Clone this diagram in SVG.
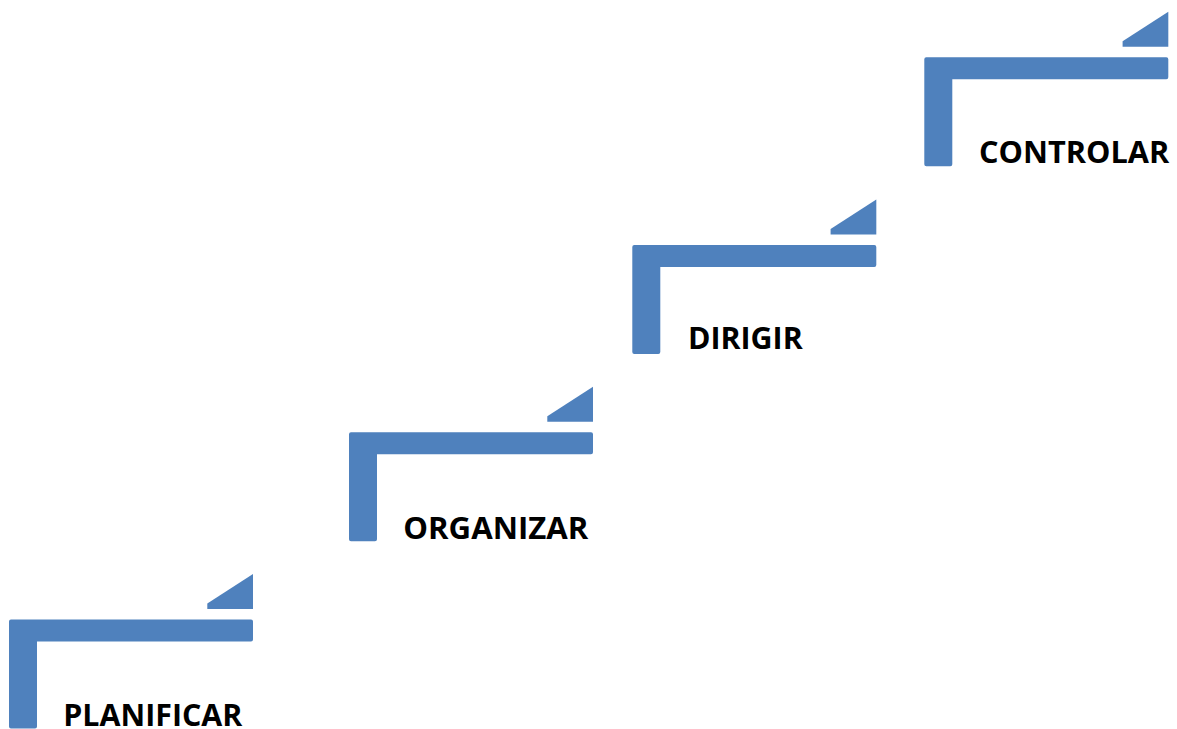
<svg xmlns="http://www.w3.org/2000/svg" xmlns:xlink="http://www.w3.org/1999/xlink" width="1177" height="729" viewBox="0 0 1177 729">
  <style>
    .shape { fill: #4F81BD; }
    .label { font-family: "Open Sans", "Liberation Sans", sans-serif; font-weight: bold; font-size: 30px; fill: #000000; }
  </style>
  <defs>
    <g id="step">
      <path class="shape" d="M2,0 H242 Q244,0 244,2 V20 Q244,22 242,22 H28 V107 Q28,109 26,109 H2 Q0,109 0,107 V2 Q0,0 2,0 Z"/>
      <path class="shape" d="M244,-45.5 V-10.5 H198.3 V-16 Z"/>
    </g>
  </defs>
  <rect width="1177" height="729" fill="#FFFFFF"/>
  <g id="planificar">
    <use xlink:href="#step" href="#step" transform="translate(9,619.5)"/>
    <text class="label" x="63.3" y="726.2" textLength="179" lengthAdjust="spacingAndGlyphs">PLANIFICAR</text>
  </g>
  <g id="organizar">
    <use xlink:href="#step" href="#step" transform="translate(349,432.3)"/>
    <text class="label" x="403.3" y="538.7" textLength="185" lengthAdjust="spacingAndGlyphs">ORGANIZAR</text>
  </g>
  <g id="dirigir">
    <use xlink:href="#step" href="#step" transform="translate(632.3,245)"/>
    <text class="label" x="688" y="349.3" textLength="114.7" lengthAdjust="spacingAndGlyphs">DIRIGIR</text>
  </g>
  <g id="controlar">
    <use xlink:href="#step" href="#step" transform="translate(924.3,57.3)"/>
    <text class="label" x="979" y="163.3" textLength="190.3" lengthAdjust="spacingAndGlyphs">CONTROLAR</text>
  </g>
  <g id="connectors"/>
</svg>
